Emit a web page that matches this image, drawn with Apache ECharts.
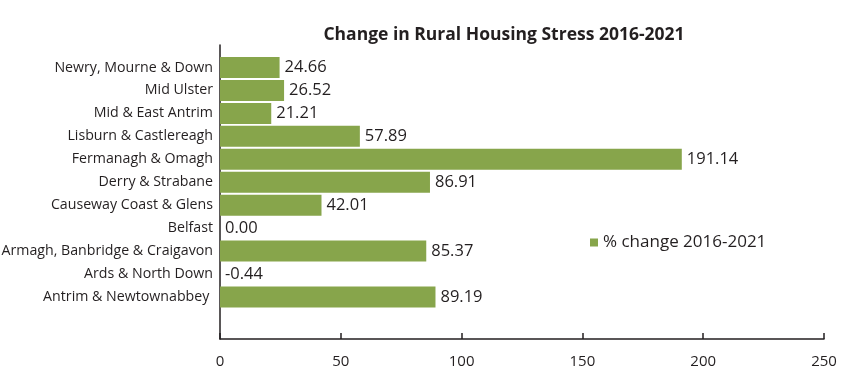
<!DOCTYPE html>
<html>
<head>
<meta charset="utf-8">
<script src="https://cdn.jsdelivr.net/npm/echarts@6/dist/echarts.min.js"></script>
<style>html,body{margin:0;padding:0;background:#fff}#c{width:850px;height:372px}</style>
</head>
<body>
<div id="c"></div>
<script>
const categories = ["Antrim & Newtownabbey ", "Ards & North Down", "Armagh, Banbridge & Craigavon", "Belfast", "Causeway Coast & Glens", "Derry & Strabane", "Fermanagh & Omagh", "Lisburn & Castlereagh", "Mid & East Antrim", "Mid Ulster", "Newry, Mourne & Down"];
const values = [89.19, -0.44, 85.37, 0.00, 42.01, 86.91, 191.14, 57.89, 21.21, 26.52, 24.66];
const xTicks = [0, 50, 100, 150, 200, 250];
const seriesName = "% change 2016-2021";
const titleText = "Change in Rural Housing Stress 2016-2021";

const font = "Open Sans";
const chart = echarts.init(document.getElementById('c'), null, {renderer: 'canvas'});
chart.setOption({
  animation: false,
  backgroundColor: '#fff',
  textStyle: {fontFamily: font, color: '#231f20'},
  title: {
    text: titleText, left: 499, top: 21, textAlign: 'center',
    textStyle: {fontFamily: font, fontSize: 17.5, fontWeight: 'bold', color: '#231f20'}
  },
  legend: {
    data: [seriesName], left: 585, top: 229, icon: 'rect', itemWidth: 8, itemHeight: 8, itemGap: 8,
    textStyle: {fontFamily: font, fontSize: 17, color: '#231f20'}
  },
  grid: [
    {left: 220, right: 26, top: 56, bottom: 63.5, containLabel: false, outerBoundsMode: 'none'},
    {left: 220, right: 26, top: 45, bottom: 33, containLabel: false, outerBoundsMode: 'none'}
  ],
  xAxis: [
    {gridIndex: 0, type: 'value', min: xTicks[0], max: xTicks[xTicks.length - 1], interval: 50, show: false},
    {gridIndex: 1, type: 'value', min: xTicks[0], max: xTicks[xTicks.length - 1], interval: 50,
     axisLine: {show: true, onZero: false, lineStyle: {color: '#231f20', width: 1.5}},
     axisTick: {show: true, inside: true, length: 6, lineStyle: {color: '#231f20', width: 1.5}},
     splitLine: {show: false},
     axisLabel: {fontFamily: font, fontSize: 15, color: '#231f20', margin: 15}}
  ],
  yAxis: [
    {gridIndex: 0, type: 'category', data: categories,
     axisLine: {show: false}, axisTick: {show: false},
     axisLabel: {fontFamily: font, fontSize: 14.2, color: '#231f20', margin: 7}},
    {gridIndex: 1, type: 'value', min: 0, max: 1,
     axisLine: {show: true, lineStyle: {color: '#231f20', width: 1.5}},
     axisTick: {show: false}, axisLabel: {show: false}, splitLine: {show: false}}
  ],
  series: [{
    name: seriesName, type: 'bar', xAxisIndex: 0, yAxisIndex: 0,
    data: values, barWidth: 21,
    itemStyle: {color: '#87a54b'},
    label: {show: true, position: 'right', distance: 5, fontFamily: font, fontSize: 16.5, color: '#231f20',
      formatter: p => p.value.toFixed(2)}
  }]
});
</script>
</body>
</html>
